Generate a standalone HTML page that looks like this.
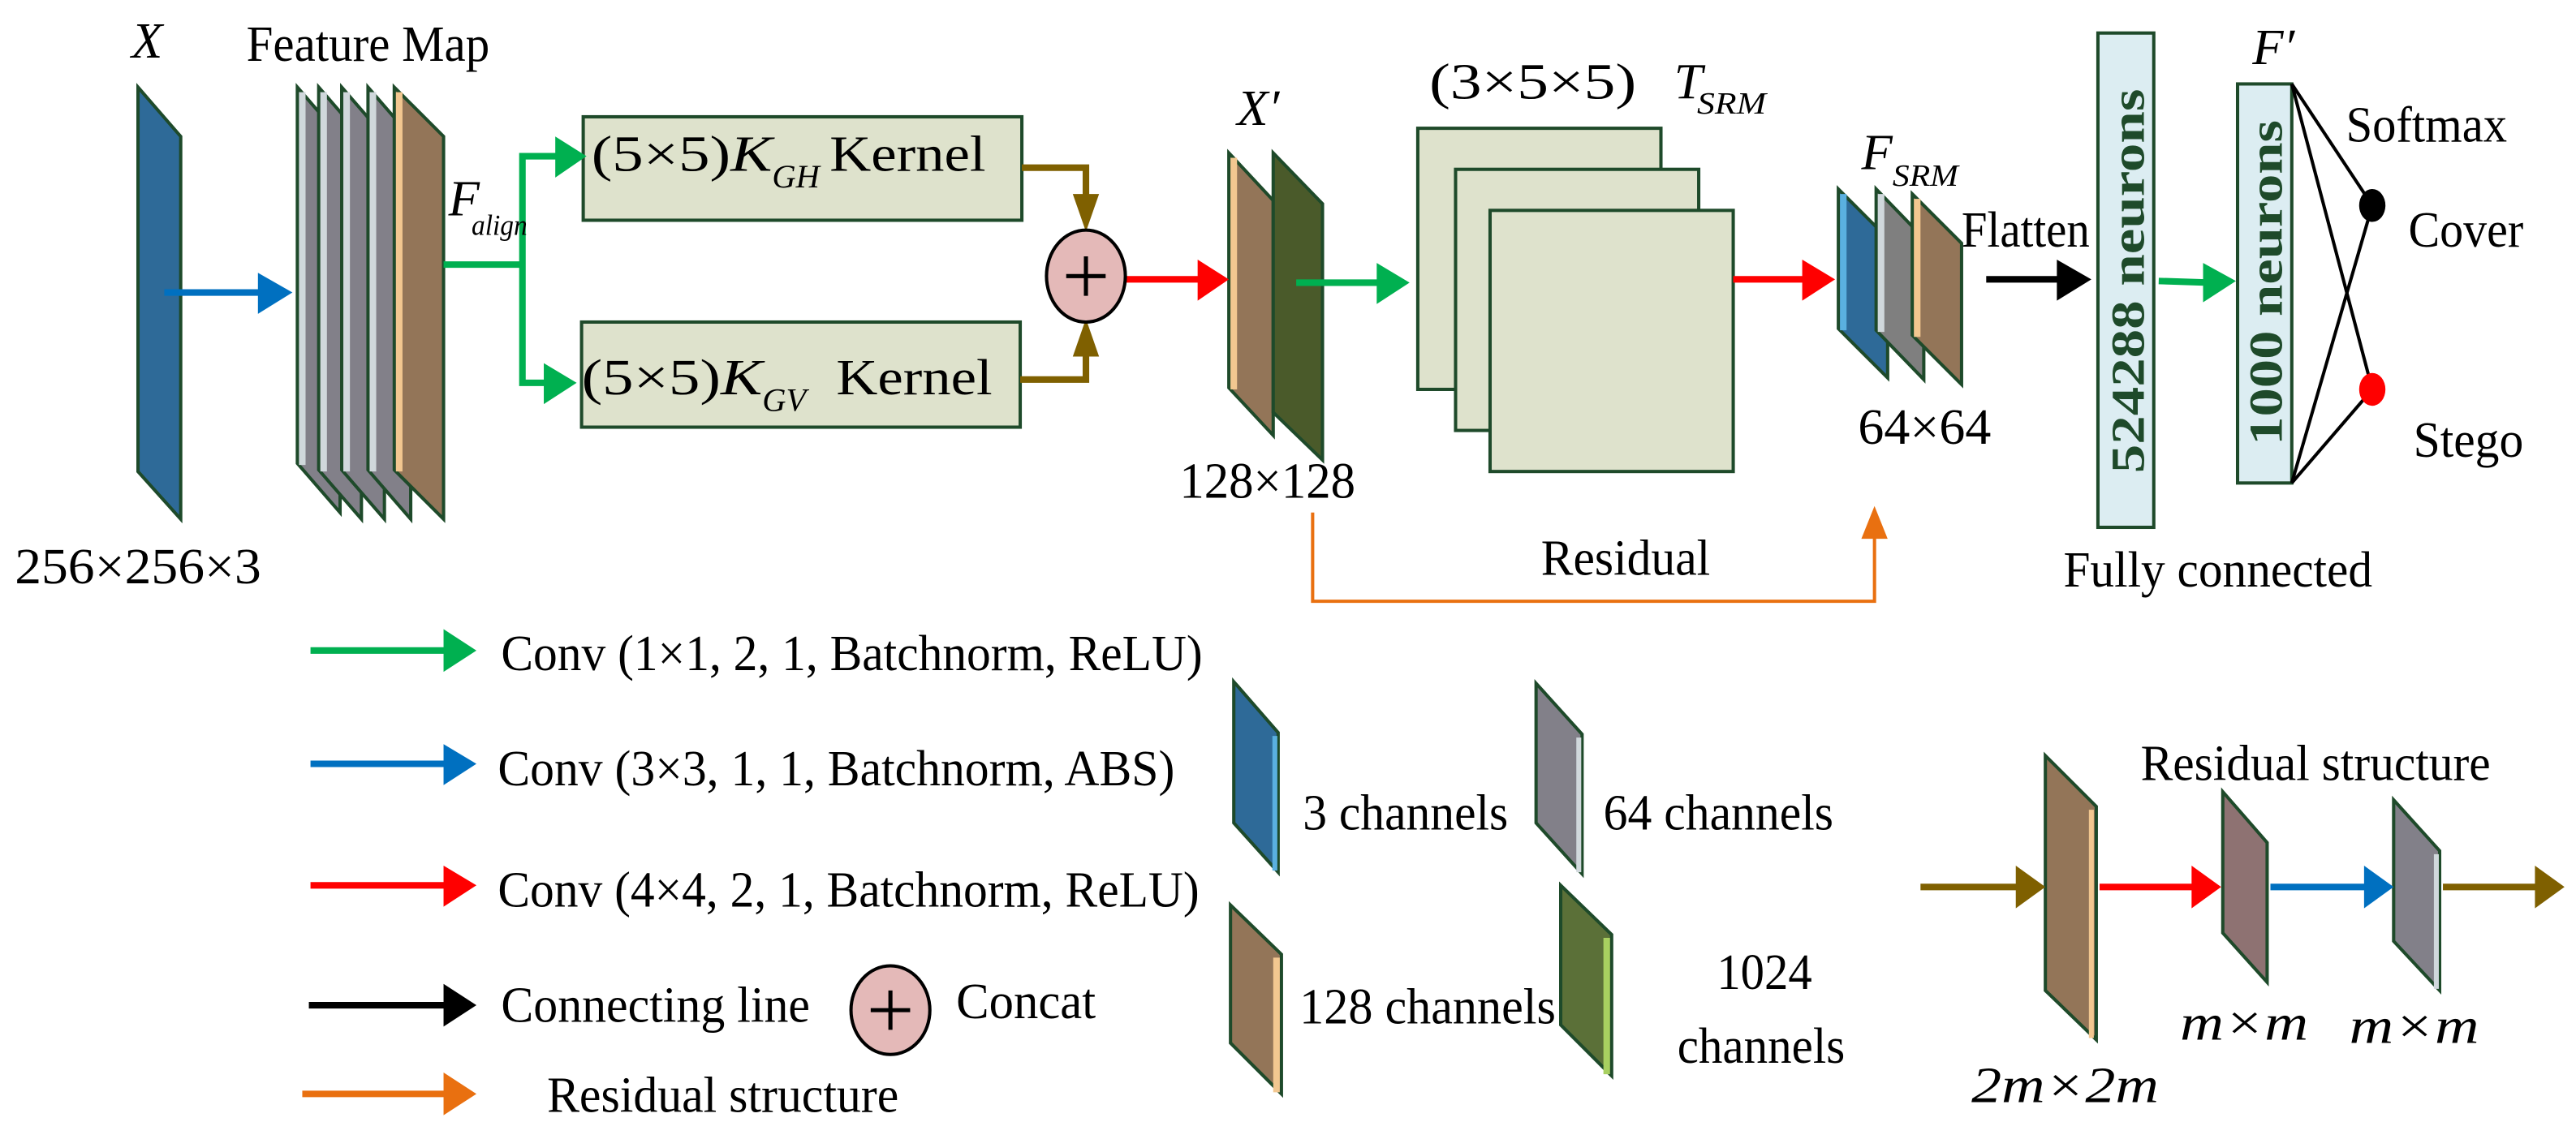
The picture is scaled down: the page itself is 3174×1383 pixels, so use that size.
<!DOCTYPE html>
<html><head><meta charset="utf-8"><style>html,body{margin:0;padding:0;background:#fff}svg{display:block}</style></head>
<body>
<svg width="3174" height="1383" viewBox="0 0 1568 683" xmlns="http://www.w3.org/2000/svg" font-family="Liberation Serif, serif" font-size="31">
<g stroke="#1e4a2a" stroke-width="2" stroke-linejoin="miter">
<polygon points="84,53 110,83 110,316 84,287" fill="#2e6a98"/>
<polygon points="181,53 207,83 207,312 181,282" fill="#828089"/><line x1="184" y1="56" x2="184" y2="283" stroke="#d0d8dc" stroke-width="4"/>
<polygon points="194,53 220,83 220,316 194,286" fill="#828089"/><line x1="197" y1="56" x2="197" y2="287" stroke="#d0d8dc" stroke-width="4"/>
<polygon points="208,53 234,83 234,316 208,286" fill="#828089"/><line x1="211" y1="56" x2="211" y2="287" stroke="#d0d8dc" stroke-width="4"/>
<polygon points="224,53 250,83 250,316 224,286" fill="#828089"/><line x1="227" y1="56" x2="227" y2="287" stroke="#d0d8dc" stroke-width="4"/>
<polygon points="240,53 270,83 270,316 240,286" fill="#937558"/><line x1="243" y1="56" x2="243" y2="287" stroke="#f2c790" stroke-width="4"/>
<rect x="355" y="71" width="267" height="63" fill="#dee2cc"/>
<rect x="354" y="196" width="267" height="64" fill="#dee2cc"/>
<polygon points="748,93 775,122 775,265 748,236" fill="#937558"/><line x1="751" y1="96" x2="751" y2="237" stroke="#f2c790" stroke-width="4"/>
<polygon points="775,93 805,124 805,280 775,251" fill="#4a5a2a"/>
<rect x="863" y="78" width="148" height="159" fill="#dee2cc"/>
<rect x="886" y="103" width="148" height="159" fill="#dee2cc"/>
<rect x="907" y="128" width="148" height="159" fill="#dee2cc"/>
<polygon points="1119,115 1149,145 1149,230 1119,200" fill="#2e6a98"/><line x1="1122" y1="118" x2="1122" y2="201" stroke="#5ab0e0" stroke-width="4"/>
<polygon points="1142,115 1171,145 1171,231 1142,201" fill="#7f7f7f"/><line x1="1145" y1="118" x2="1145" y2="202" stroke="#d0d8dc" stroke-width="4"/>
<polygon points="1164,118 1194,148 1194,234 1164,204" fill="#937558"/><line x1="1167" y1="121" x2="1167" y2="205" stroke="#f2c790" stroke-width="4"/>
<rect x="1277" y="20" width="34" height="301" fill="#dcedf2"/>
<rect x="1362" y="51" width="33" height="243" fill="#dcedf2"/>
<polygon points="751,415 778,446 778,531 751,501" fill="#2e6a98"/><line x1="776" y1="448" x2="776" y2="530" stroke="#5ab0e0" stroke-width="3"/>
<polygon points="935,416 963,447 963,532 935,501" fill="#828089"/><line x1="961" y1="449" x2="961" y2="531" stroke="#d0d8dc" stroke-width="3"/>
<polygon points="749,551 780,581 780,666 749,635" fill="#937558"/><line x1="777" y1="583" x2="777" y2="665" stroke="#f2c790" stroke-width="4"/>
<polygon points="950,539 981,569 981,655 950,624" fill="#5b7038"/><line x1="978" y1="571" x2="978" y2="654" stroke="#a8d060" stroke-width="4"/>
<polygon points="1245,460 1276,491 1276,633 1245,603" fill="#937558"/><line x1="1273" y1="493" x2="1273" y2="632" stroke="#f2c790" stroke-width="3"/>
<polygon points="1353,482 1380,513 1380,598 1353,568" fill="#8e7272"/>
<polygon points="1457,487 1485,518 1485,603 1457,573" fill="#828089"/><line x1="1483" y1="520" x2="1483" y2="602" stroke="#d0d8dc" stroke-width="3"/>
</g>
<g stroke-width="4" fill="none">
<line x1="100" y1="178" x2="160" y2="178" stroke="#0070c0"/>
<polyline points="270,161 318,161" stroke="#00b050"/>
<polyline points="340,95 318,95 318,233 335,233" stroke="#00b050"/>
<polyline points="622,102 661,102 661,126" stroke="#7f6000"/>
<polyline points="621,231 661,231 661,210" stroke="#7f6000"/>
<line x1="685" y1="170" x2="733" y2="170" stroke="#ff0000"/>
<line x1="789" y1="172" x2="842" y2="172" stroke="#00b050"/>
<line x1="1055" y1="170" x2="1101" y2="170" stroke="#ff0000"/>
<line x1="1209" y1="170" x2="1258" y2="170" stroke="#000"/>
<line x1="1314" y1="171" x2="1346" y2="172" stroke="#00b050"/>
<polyline points="799,312 799,366 1141,366 1141,325" stroke="#e97010" stroke-width="2"/>
<line x1="189" y1="396" x2="272" y2="396" stroke="#00b050"/>
<line x1="189" y1="465" x2="272" y2="465" stroke="#0070c0"/>
<line x1="189" y1="539" x2="272" y2="539" stroke="#ff0000"/>
<line x1="188" y1="612" x2="272" y2="612" stroke="#000"/>
<line x1="184" y1="666" x2="272" y2="666" stroke="#e97010"/>
<line x1="1169" y1="540" x2="1230" y2="540" stroke="#7f6000"/>
<line x1="1278" y1="540" x2="1337" y2="540" stroke="#ff0000"/>
<line x1="1382" y1="540" x2="1442" y2="540" stroke="#0070c0"/>
<line x1="1487" y1="540" x2="1546" y2="540" stroke="#7f6000"/>
</g>
<g stroke="#000" stroke-width="2">
<line x1="1395" y1="51" x2="1444" y2="125"/><line x1="1395" y1="294" x2="1444" y2="125"/>
<line x1="1395" y1="51" x2="1444" y2="237"/><line x1="1395" y1="294" x2="1444" y2="237"/>
</g>
<ellipse cx="1444" cy="125" rx="8" ry="10" fill="#000"/>
<ellipse cx="1444" cy="237" rx="8" ry="10" fill="#f00"/>
<polygon points="157,166 178,178 157,191" fill="#0070c0"/>
<polygon points="338,83 357,95 338,108" fill="#00b050"/>
<polygon points="331,221 351,233 331,246" fill="#00b050"/>
<polygon points="653,118 669,118 661,141" fill="#7f6000"/>
<polygon points="653,217 669,217 661,194" fill="#7f6000"/>
<polygon points="729,158 748,170 729,183" fill="#ff0000"/>
<polygon points="838,160 858,172 838,185" fill="#00b050"/>
<polygon points="1097,158 1117,170 1097,183" fill="#ff0000"/>
<polygon points="1252,158 1273,170 1252,183" fill="#000"/>
<polygon points="1341,160 1361,171 1341,184" fill="#00b050"/>
<polygon points="1133,328 1149,328 1141,308" fill="#e97010"/>
<polygon points="270,383 290,396 270,409" fill="#00b050"/>
<polygon points="270,453 290,465 270,478" fill="#0070c0"/>
<polygon points="270,527 290,539 270,552" fill="#ff0000"/>
<polygon points="270,599 290,612 270,625" fill="#000"/>
<polygon points="270,653 290,666 270,679" fill="#e97010"/>
<polygon points="1227,527 1245,540 1227,553" fill="#7f6000"/>
<polygon points="1334,527 1352,540 1334,553" fill="#ff0000"/>
<polygon points="1439,527 1457,540 1439,553" fill="#0070c0"/>
<polygon points="1543,527 1561,540 1543,553" fill="#7f6000"/>
<ellipse cx="661" cy="168" rx="24" ry="28" fill="#e4b9b8" stroke="#000" stroke-width="2"/>
<path d="M649,168 H673 M661,156 V180" stroke="#000" stroke-width="2.5"/>
<ellipse cx="542" cy="615" rx="24" ry="27" fill="#e4b9b8" stroke="#000" stroke-width="2"/>
<path d="M530,615 H554 M542,603 V627" stroke="#000" stroke-width="2.5"/>
<g fill="#000">
<text x="80" y="35" font-style="italic">X</text>
<text x="150" y="37" textLength="148" lengthAdjust="spacingAndGlyphs">Feature Map</text>
<text x="9" y="355" textLength="150" lengthAdjust="spacingAndGlyphs">256×256×3</text>
<text x="273" y="131" font-style="italic">F</text>
<text x="287" y="143" font-style="italic" font-size="18" textLength="34" lengthAdjust="spacingAndGlyphs">align</text>
<text x="360" y="104" textLength="110" lengthAdjust="spacingAndGlyphs">(5×5)<tspan font-style="italic">K</tspan></text>
<text x="470" y="114" font-style="italic" font-size="20">GH</text>
<text x="505" y="104" textLength="95" lengthAdjust="spacingAndGlyphs">Kernel</text>
<text x="354" y="240" textLength="110" lengthAdjust="spacingAndGlyphs">(5×5)<tspan font-style="italic">K</tspan></text>
<text x="464" y="250" font-style="italic" font-size="20">GV</text>
<text x="509" y="240" textLength="95" lengthAdjust="spacingAndGlyphs">Kernel</text>
<text x="753" y="76" font-style="italic">X′</text>
<text x="718" y="303" textLength="107" lengthAdjust="spacingAndGlyphs">128×128</text>
<text x="870" y="60" textLength="126" lengthAdjust="spacingAndGlyphs">(3×5×5)</text>
<text x="1019" y="60" font-style="italic">T</text>
<text x="1033" y="69" font-style="italic" font-size="19" textLength="42" lengthAdjust="spacingAndGlyphs">SRM</text>
<text x="1133" y="103" font-style="italic">F</text>
<text x="1152" y="113" font-style="italic" font-size="19" textLength="40" lengthAdjust="spacingAndGlyphs">SRM</text>
<text x="1131" y="270" textLength="81" lengthAdjust="spacingAndGlyphs">64×64</text>
<text x="1194" y="150" textLength="78" lengthAdjust="spacingAndGlyphs">Flatten</text>
<text x="938" y="350" textLength="103" lengthAdjust="spacingAndGlyphs">Residual</text>
<text x="1256" y="357" textLength="188" lengthAdjust="spacingAndGlyphs">Fully connected</text>
<text x="1371" y="39" font-style="italic">F′</text>
<text x="1428" y="86" textLength="98" lengthAdjust="spacingAndGlyphs">Softmax</text>
<text x="1466" y="150" textLength="70" lengthAdjust="spacingAndGlyphs">Cover</text>
<text x="1469" y="278" textLength="67" lengthAdjust="spacingAndGlyphs">Stego</text>
<text transform="translate(1305,288) rotate(-90)" font-weight="bold" font-size="29" fill="#1e4a2a" textLength="234" lengthAdjust="spacingAndGlyphs">524288 neurons</text>
<text transform="translate(1389,271) rotate(-90)" font-weight="bold" font-size="29" fill="#1e4a2a" textLength="198" lengthAdjust="spacingAndGlyphs">1000 neurons</text>
<text x="305" y="408" textLength="427" lengthAdjust="spacingAndGlyphs">Conv (1×1, 2, 1, Batchnorm, ReLU)</text>
<text x="303" y="478" textLength="412" lengthAdjust="spacingAndGlyphs">Conv (3×3, 1, 1, Batchnorm, ABS)</text>
<text x="303" y="552" textLength="427" lengthAdjust="spacingAndGlyphs">Conv (4×4, 2, 1, Batchnorm, ReLU)</text>
<text x="305" y="622" textLength="188" lengthAdjust="spacingAndGlyphs">Connecting line</text>
<text x="582" y="620" textLength="85" lengthAdjust="spacingAndGlyphs">Concat</text>
<text x="333" y="677" textLength="214" lengthAdjust="spacingAndGlyphs">Residual structure</text>
<text x="793" y="505" textLength="125" lengthAdjust="spacingAndGlyphs">3 channels</text>
<text x="976" y="505" textLength="140" lengthAdjust="spacingAndGlyphs">64 channels</text>
<text x="791" y="623" textLength="156" lengthAdjust="spacingAndGlyphs">128 channels</text>
<text x="1045" y="602" textLength="58" lengthAdjust="spacingAndGlyphs">1024</text>
<text x="1021" y="647" textLength="102" lengthAdjust="spacingAndGlyphs">channels</text>
<text x="1303" y="475" textLength="213" lengthAdjust="spacingAndGlyphs">Residual structure</text>
<text x="1327" y="633" font-style="italic" textLength="78" lengthAdjust="spacingAndGlyphs">m×m</text>
<text x="1430" y="635" font-style="italic" textLength="79" lengthAdjust="spacingAndGlyphs">m×m</text>
<text x="1200" y="671" font-style="italic" textLength="114" lengthAdjust="spacingAndGlyphs">2m×2m</text>
</g>
</svg>
</body></html>
